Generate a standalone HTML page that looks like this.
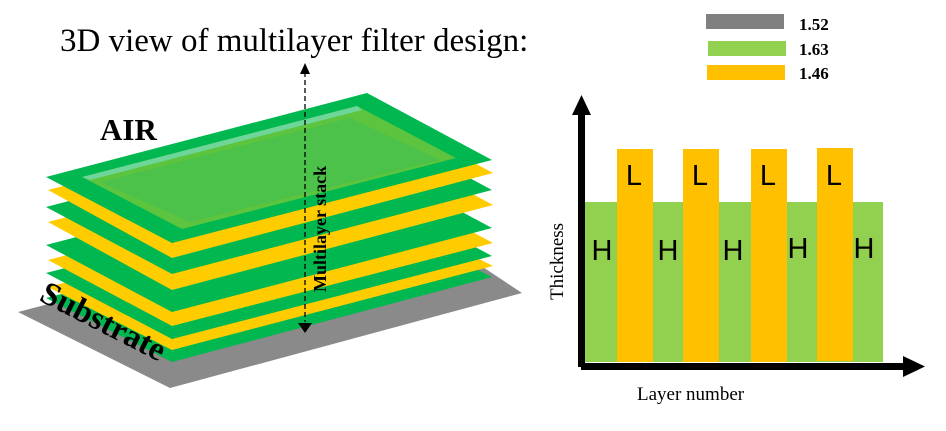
<!DOCTYPE html>
<html><head><style>
body{margin:0;background:#fff;}
svg{display:block;}
text{font-family:"Liberation Serif",serif;}
</style></head><body>
<svg width="946" height="431" viewBox="0 0 946 431" xmlns="http://www.w3.org/2000/svg">
<text x="60" y="51" font-size="33">3D view of multilayer filter design:</text>
<rect x="706" y="14" width="78" height="15" fill="#808080"/>
<rect x="708" y="41" width="78" height="15" fill="#92d050"/>
<rect x="707" y="65" width="78" height="15" fill="#ffc000"/>
<text x="799" y="30" font-size="17" font-weight="bold">1.52</text>
<text x="799" y="55" font-size="17" font-weight="bold">1.63</text>
<text x="799" y="79" font-size="17" font-weight="bold">1.46</text>

<polygon points="18,312 400,212 522,293 170,388" fill="#8a8a8a"/>
<g>
<polygon points="46,298 367,214 492,277 172,362" fill="#00b84f"/>
<polygon points="48,287 368,203 493,266 172,350" fill="#ffcc00"/>
<polygon points="46,273 367,189 492,256 172,339" fill="#00b84f"/>
<polygon points="48,260 368,176 493,243 172,326" fill="#ffcc00"/>
<polygon points="46,245 367,161 492,228 172,312" fill="#00b84f"/>
<polygon points="48,222 368,138 493,205 172,290" fill="#ffcc00"/>
<polygon points="46,207 367,123 492,190 172,274" fill="#00b84f"/>
<polygon points="48,190 368,106 493,173 172,258" fill="#ffcc00"/>
<polygon points="46,177 367,93 492,160 172,243" fill="#00b84f"/>
<polygon points="82,177 357,106 456,158 182,229" fill="#5cc43e"/>
<polygon points="82,177 357,106 362,110 90,180" fill="#6ed699"/>
<polygon points="100,182 350,118 440,160 190,222" fill="#4cc24a"/>
</g>
<text x="100" y="140" font-size="31" font-weight="bold">AIR</text>
<text transform="translate(38,300) rotate(27)" font-size="33" font-weight="bold">Substrate</text>
<line x1="305" y1="72" x2="305" y2="322" stroke="#000" stroke-width="1.3" stroke-dasharray="5,3"/>
<polygon points="305,63 300,74 310,74" fill="#000"/>
<polygon points="305,333 298,323 312,323" fill="#000"/>
<text transform="translate(326,292) rotate(-90)" font-size="18" font-weight="bold">Multilayer stack</text>

<rect x="585" y="202" width="298" height="160" fill="#92d050"/>
<rect x="617" y="149" width="36" height="213" fill="#ffc000"/>
<rect x="683" y="149" width="36" height="213" fill="#ffc000"/>
<rect x="751" y="149" width="36" height="213" fill="#ffc000"/>
<rect x="817" y="148" width="36" height="213" fill="#ffc000"/>
<g font-size="29" text-anchor="middle">
<text x="602" y="260" style="font-family:'Liberation Sans',sans-serif">H</text>
<text x="668" y="260" style="font-family:'Liberation Sans',sans-serif">H</text>
<text x="733" y="260" style="font-family:'Liberation Sans',sans-serif">H</text>
<text x="798" y="258" style="font-family:'Liberation Sans',sans-serif">H</text>
<text x="864" y="258" style="font-family:'Liberation Sans',sans-serif">H</text>
<text x="634" y="185" style="font-family:'Liberation Sans',sans-serif">L</text>
<text x="700" y="185" style="font-family:'Liberation Sans',sans-serif">L</text>
<text x="768" y="185" style="font-family:'Liberation Sans',sans-serif">L</text>
<text x="834" y="185" style="font-family:'Liberation Sans',sans-serif">L</text>
</g>
<rect x="578" y="108" width="7" height="259" fill="#000"/>
<polygon points="581.5,95 572,115 591,115" fill="#000"/>
<rect x="581" y="363" width="330" height="7" fill="#000"/>
<polygon points="925,366.5 903,356 903,377" fill="#000"/>
<text transform="translate(563,300) rotate(-90)" font-size="19">Thickness</text>
<text x="637" y="400" font-size="19">Layer number</text>
</svg>
</body></html>
